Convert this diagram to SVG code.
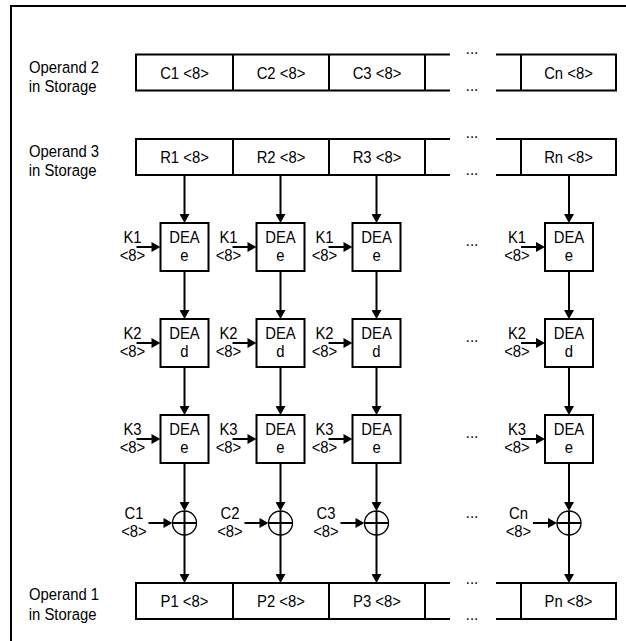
<svg xmlns="http://www.w3.org/2000/svg" width="626" height="641" viewBox="0 0 626 641">
<style>
text{font-family:"Liberation Sans",Arial,Helvetica,sans-serif;font-size:16.5px;fill:#000;transform-box:fill-box;transform-origin:center;transform:scaleX(0.9)}
.m{text-anchor:middle}
.ln{stroke:#000;stroke-width:2;fill:none}
.bx{fill:#fff;stroke:#000;stroke-width:2}
.cw{fill:#fff;stroke:#000;stroke-width:1.3}
.ar{stroke:#000;stroke-width:2;fill:none;marker-end:url(#ah)}
</style>
<defs>
<marker id="ah" viewBox="0 0 10 10" refX="6.67" refY="5" markerWidth="9" markerHeight="10" markerUnits="userSpaceOnUse" orient="auto" preserveAspectRatio="none"><path d="M0,0 L10,5 L0,10 z" fill="#000"/></marker>
</defs>
<rect width="626" height="641" fill="#fff"/>
<path class="ln" d="M11,641 V6 H626"/>

<g id="labels">
<text x="25" y="73">Operand 2</text><text x="25" y="92">in Storage</text>
<text x="25" y="157.5">Operand 3</text><text x="25" y="176.5">in Storage</text>
<text x="25" y="600.5">Operand 1</text><text x="25" y="620">in Storage</text>
</g>

<g id="op2">
<path class="ln" d="M450,54.5 H136 V90.5 H450 M233,54.5 V90.5 M329,54.5 V90.5 M425,54.5 V90.5 M496,54.5 H616 V90.5 H496 M521,54.5 V90.5"/>
<text class="m" x="184.5" y="79">C1 &lt;8&gt;</text>
<text class="m" x="281" y="79">C2 &lt;8&gt;</text>
<text class="m" x="377" y="79">C3 &lt;8&gt;</text>
<text class="m" x="568.5" y="79">Cn &lt;8&gt;</text>
<text class="m" x="472" y="54.5">...</text>
<text class="m" x="472" y="91">...</text>
</g>

<g id="op3">
<path class="ln" d="M450,139 H136 V175 H450 M233,139 V175 M329,139 V175 M425,139 V175 M496,139 H616 V175 H496 M521,139 V175"/>
<text class="m" x="184.5" y="163">R1 &lt;8&gt;</text>
<text class="m" x="281" y="163">R2 &lt;8&gt;</text>
<text class="m" x="377" y="163">R3 &lt;8&gt;</text>
<text class="m" x="568.5" y="163">Rn &lt;8&gt;</text>
<text class="m" x="472" y="138.5">...</text>
<text class="m" x="472" y="175.5">...</text>
</g>

<g id="op1">
<path class="ln" d="M450,583 H136 V619 H450 M233,583 V619 M329,583 V619 M425,583 V619 M496,583 H616 V619 H496 M521,583 V619"/>
<text class="m" x="184.5" y="607.5">P1 &lt;8&gt;</text>
<text class="m" x="281" y="607.5">P2 &lt;8&gt;</text>
<text class="m" x="377" y="607.5">P3 &lt;8&gt;</text>
<text class="m" x="568.5" y="607.5">Pn &lt;8&gt;</text>
<text class="m" x="472" y="584">...</text>
<text class="m" x="472" y="620.5">...</text>
</g>

<g id="connectors">
<path class="ar" d="M184.5,175 V220"/><path class="ar" d="M184.5,271 V316"/><path class="ar" d="M184.5,367 V412"/><path class="ar" d="M184.5,463 V508"/><path class="ar" d="M184.5,535 V580"/>
<path class="ar" d="M280.5,175 V220"/><path class="ar" d="M280.5,271 V316"/><path class="ar" d="M280.5,367 V412"/><path class="ar" d="M280.5,463 V508"/><path class="ar" d="M280.5,535 V580"/>
<path class="ar" d="M376.5,175 V220"/><path class="ar" d="M376.5,271 V316"/><path class="ar" d="M376.5,367 V412"/><path class="ar" d="M376.5,463 V508"/><path class="ar" d="M376.5,535 V580"/>
<path class="ar" d="M569,175 V220"/><path class="ar" d="M569,271 V316"/><path class="ar" d="M569,367 V412"/><path class="ar" d="M569,463 V508"/><path class="ar" d="M569,535 V580"/>
<path class="ar" d="M136.5,247 H157.5"/><path class="ar" d="M136.5,343 H157.5"/><path class="ar" d="M136.5,439 H157.5"/>
<path class="ar" d="M232.5,247 H253.5"/><path class="ar" d="M232.5,343 H253.5"/><path class="ar" d="M232.5,439 H253.5"/>
<path class="ar" d="M328.5,247 H349.5"/><path class="ar" d="M328.5,343 H349.5"/><path class="ar" d="M328.5,439 H349.5"/>
<path class="ar" d="M521,247 H542"/><path class="ar" d="M521,343 H542"/><path class="ar" d="M521,439 H542"/>
<path class="ar" d="M148.5,523 H169.5"/><path class="ar" d="M244.5,523 H265.5"/><path class="ar" d="M340.5,523 H361.5"/><path class="ar" d="M533,523 H554"/>
</g>

<g id="keys">
<text class="m" x="132.5" y="243.5">K1</text><text class="m" x="132.5" y="261.5">&lt;8&gt;</text>
<text class="m" x="132.5" y="339.5">K2</text><text class="m" x="132.5" y="357.5">&lt;8&gt;</text>
<text class="m" x="132.5" y="435.5">K3</text><text class="m" x="132.5" y="453.5">&lt;8&gt;</text>
<text class="m" x="228.5" y="243.5">K1</text><text class="m" x="228.5" y="261.5">&lt;8&gt;</text>
<text class="m" x="228.5" y="339.5">K2</text><text class="m" x="228.5" y="357.5">&lt;8&gt;</text>
<text class="m" x="228.5" y="435.5">K3</text><text class="m" x="228.5" y="453.5">&lt;8&gt;</text>
<text class="m" x="324.5" y="243.5">K1</text><text class="m" x="324.5" y="261.5">&lt;8&gt;</text>
<text class="m" x="324.5" y="339.5">K2</text><text class="m" x="324.5" y="357.5">&lt;8&gt;</text>
<text class="m" x="324.5" y="435.5">K3</text><text class="m" x="324.5" y="453.5">&lt;8&gt;</text>
<text class="m" x="517" y="243.5">K1</text><text class="m" x="517" y="261.5">&lt;8&gt;</text>
<text class="m" x="517" y="339.5">K2</text><text class="m" x="517" y="357.5">&lt;8&gt;</text>
<text class="m" x="517" y="435.5">K3</text><text class="m" x="517" y="453.5">&lt;8&gt;</text>
<text class="m" x="134" y="519">C1</text><text class="m" x="134" y="537">&lt;8&gt;</text>
<text class="m" x="230" y="519">C2</text><text class="m" x="230" y="537">&lt;8&gt;</text>
<text class="m" x="326" y="519">C3</text><text class="m" x="326" y="537">&lt;8&gt;</text>
<text class="m" x="518.5" y="519">Cn</text><text class="m" x="518.5" y="537">&lt;8&gt;</text>
<text class="m" x="472" y="246">...</text>
<text class="m" x="472" y="342">...</text>
<text class="m" x="472" y="438">...</text>
<text class="m" x="472" y="518">...</text>
</g>

<g id="dea-e-1"><rect class="bx" x="160.5" y="223" width="48" height="48"/><text class="m" x="184.5" y="243.5">DEA</text><text class="m" x="184.5" y="261.5">e</text></g>
<g id="dea-d-1"><rect class="bx" x="160.5" y="319" width="48" height="48"/><text class="m" x="184.5" y="339.5">DEA</text><text class="m" x="184.5" y="357.5">d</text></g>
<g id="dea-e2-1"><rect class="bx" x="160.5" y="415" width="48" height="48"/><text class="m" x="184.5" y="435.5">DEA</text><text class="m" x="184.5" y="453.5">e</text></g>
<g id="xor-1"><circle class="cw" cx="184.5" cy="523" r="12"/><path class="ln" d="M172.5,523 H196.5 M184.5,511 V535"/></g>

<g id="dea-e-2"><rect class="bx" x="256.5" y="223" width="48" height="48"/><text class="m" x="280.5" y="243.5">DEA</text><text class="m" x="280.5" y="261.5">e</text></g>
<g id="dea-d-2"><rect class="bx" x="256.5" y="319" width="48" height="48"/><text class="m" x="280.5" y="339.5">DEA</text><text class="m" x="280.5" y="357.5">d</text></g>
<g id="dea-e2-2"><rect class="bx" x="256.5" y="415" width="48" height="48"/><text class="m" x="280.5" y="435.5">DEA</text><text class="m" x="280.5" y="453.5">e</text></g>
<g id="xor-2"><circle class="cw" cx="280.5" cy="523" r="12"/><path class="ln" d="M268.5,523 H292.5 M280.5,511 V535"/></g>

<g id="dea-e-3"><rect class="bx" x="352.5" y="223" width="48" height="48"/><text class="m" x="376.5" y="243.5">DEA</text><text class="m" x="376.5" y="261.5">e</text></g>
<g id="dea-d-3"><rect class="bx" x="352.5" y="319" width="48" height="48"/><text class="m" x="376.5" y="339.5">DEA</text><text class="m" x="376.5" y="357.5">d</text></g>
<g id="dea-e2-3"><rect class="bx" x="352.5" y="415" width="48" height="48"/><text class="m" x="376.5" y="435.5">DEA</text><text class="m" x="376.5" y="453.5">e</text></g>
<g id="xor-3"><circle class="cw" cx="376.5" cy="523" r="12"/><path class="ln" d="M364.5,523 H388.5 M376.5,511 V535"/></g>

<g id="dea-e-n"><rect class="bx" x="545" y="223" width="48" height="48"/><text class="m" x="569" y="243.5">DEA</text><text class="m" x="569" y="261.5">e</text></g>
<g id="dea-d-n"><rect class="bx" x="545" y="319" width="48" height="48"/><text class="m" x="569" y="339.5">DEA</text><text class="m" x="569" y="357.5">d</text></g>
<g id="dea-e2-n"><rect class="bx" x="545" y="415" width="48" height="48"/><text class="m" x="569" y="435.5">DEA</text><text class="m" x="569" y="453.5">e</text></g>
<g id="xor-n"><circle class="cw" cx="569" cy="523" r="12"/><path class="ln" d="M557,523 H581 M569,511 V535"/></g>
</svg>
